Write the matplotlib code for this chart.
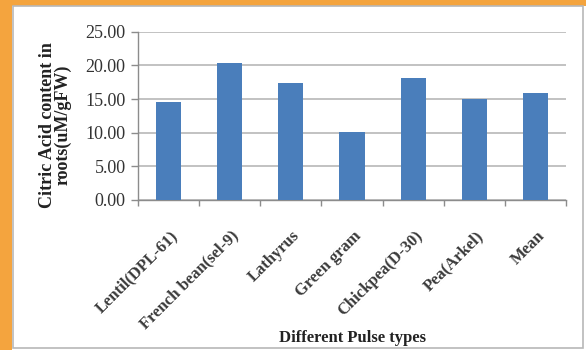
import matplotlib.pyplot as plt
from matplotlib.patches import Rectangle

# citric acid in roots for each pulse type
pulses = ["Lentil(DPL-61)", "French bean(sel-9)", "Lathyrus", "Green gram",
          "Chickpea(D-30)", "Pea(Arkel)", "Mean"]
citric = [14.5, 20.4, 17.4, 10.1, 18.05, 15.0, 15.9]
yticks = [0, 5, 10, 15, 20, 25]

W, H = 586, 350
fig = plt.figure(figsize=(W / 100, H / 100), dpi=100)
fig.patch.set_facecolor("white")

# orange frame on the left and top, grey-bordered white panel inside
fig.patches.append(Rectangle((0, 0), 11.5 / W, 1, transform=fig.transFigure,
                             facecolor="#F4A43E", edgecolor="none", zorder=0))
fig.patches.append(Rectangle((0, 1 - 6 / H), 1, 6 / H, transform=fig.transFigure,
                             facecolor="#F4A43E", edgecolor="none", zorder=0))
fig.patches.append(Rectangle((12.5 / W, 2 / H), 570 / W, 342 / H, transform=fig.transFigure,
                             facecolor="white", edgecolor="#B8B8B8", linewidth=1.2, zorder=1))

ax = fig.add_axes([138 / W, 1 - 200 / H, (566 - 138) / W, (200 - 31.7) / H])
ax.set_facecolor("none")
ax.set_zorder(5)

x = list(range(len(pulses)))
ax.bar(x, citric, width=0.41, color="#4A7EBB", zorder=3)

ax.set_xlim(-0.5, len(pulses) - 0.5)
ax.set_ylim(0, 25)
ax.set_yticks(yticks)
ax.set_yticklabels(["%.2f" % v for v in yticks], fontfamily="Liberation Serif",
                   fontsize=13, color="#333333")
ax.yaxis.grid(True, color="#BDBDBD", linewidth=1.3, zorder=0)
ax.tick_params(axis="y", length=5, width=1, color="#8C8C8C", pad=4)

# category boundary ticks on the x axis, labels at bar centres
ax.set_xticks([i - 0.5 for i in range(len(pulses) + 1)])
ax.set_xticklabels([])
ax.tick_params(axis="x", which="major", length=4, width=1, color="#8C8C8C")
ax.set_xticks([i + 0.02 for i in x], minor=True)
ax.set_xticklabels(pulses, minor=True, rotation=45, ha="right",
                   rotation_mode="anchor", fontfamily="Liberation Serif",
                   fontsize=12, fontweight="bold", color="#3A3A3A")
ax.tick_params(axis="x", which="minor", length=0, pad=20)

for side in ["top", "right"]:
    ax.spines[side].set_visible(False)
for side in ["left", "bottom"]:
    ax.spines[side].set_color("#8C8C8C")
    ax.spines[side].set_linewidth(1)

fig.text(55 / W, 1 - 125 / H, "Citric Acid content in\nroots(uM/gFW)", rotation=90,
         ha="center", va="center", fontfamily="Liberation Serif", fontsize=13,
         fontweight="bold", color="#222222", linespacing=0.85)

fig.text(352 / W, 1 - 338 / H, "Different Pulse types", ha="center", va="center",
         fontfamily="Liberation Serif", fontsize=12, fontweight="bold", color="#222222")

fig.savefig("out.png", dpi=100)
